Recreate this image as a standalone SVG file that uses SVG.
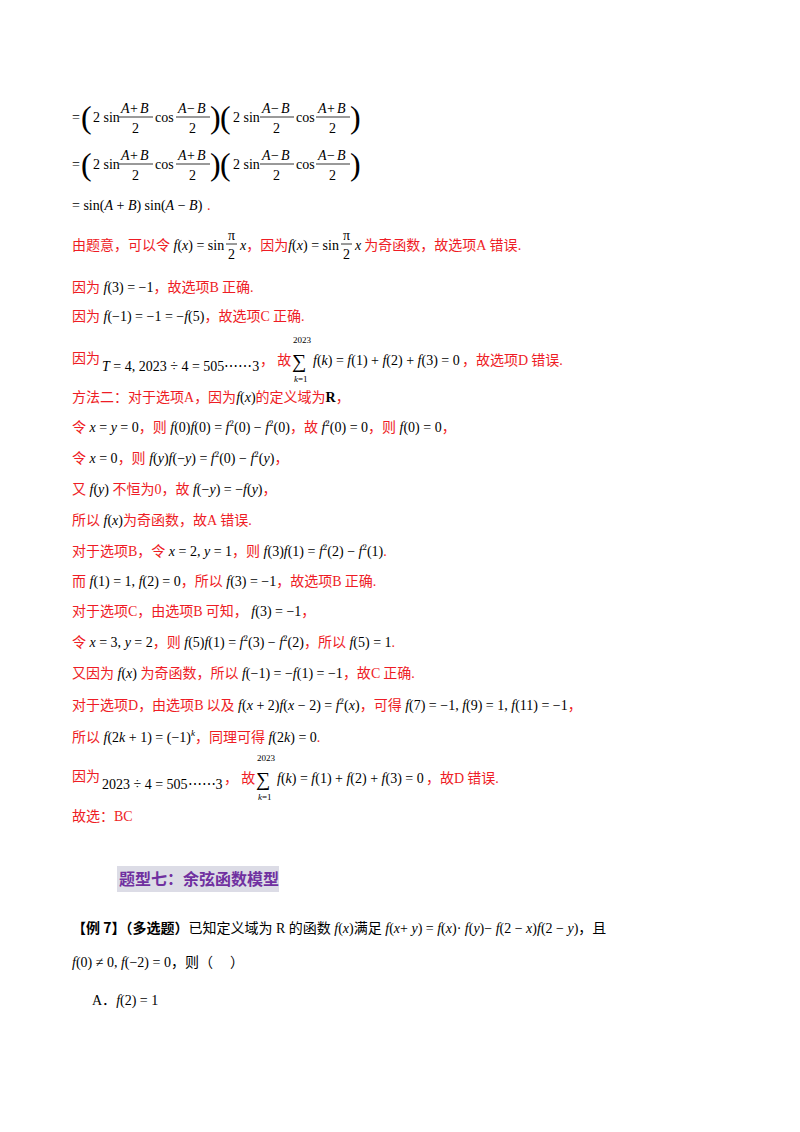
<svg xmlns="http://www.w3.org/2000/svg" width="800" height="1132" viewBox="0 0 800 1132">
<style>
text{font-family:"Liberation Serif","Noto Sans CJK SC",serif;font-size:14px;fill:#000}
.r{fill:#ee1c25}
.r .c{font-family:"Noto Sans CJK SC","Liberation Sans",sans-serif}
.m{fill:#000;font-family:"Liberation Serif",serif}
.i{font-style:italic}
.s{font-size:9px}
.p{font-size:32px;font-weight:100}
.k{font-family:"Noto Sans CJK SC",sans-serif}
line{stroke:#000;stroke-width:0.8}
</style>
<rect width="800" height="1132" fill="#fff"/>
<g id="eq">
<text x="72" y="122">=</text>
<text x="81" y="128" class="p">(</text>
<text x="93" y="122">2 sin</text>
<text x="121" y="113" class="i">A</text><text x="130" y="113">+</text><text x="140" y="113" class="i">B</text>
<line x1="119" y1="117" x2="153" y2="117"/><text x="132" y="133">2</text>
<text x="155" y="122">cos</text>
<text x="178" y="113" class="i">A</text><text x="187" y="113">−</text><text x="197" y="113" class="i">B</text>
<line x1="176" y1="117" x2="210" y2="117"/><text x="189" y="133">2</text>
<text x="210" y="128" class="p">)</text>
<text x="220" y="128" class="p">(</text>
<text x="233" y="122">2 sin</text>
<text x="262" y="113" class="i">A</text><text x="271" y="113">−</text><text x="281" y="113" class="i">B</text>
<line x1="260" y1="117" x2="294" y2="117"/><text x="273" y="133">2</text>
<text x="296" y="122">cos</text>
<text x="318" y="113" class="i">A</text><text x="327" y="113">+</text><text x="337" y="113" class="i">B</text>
<line x1="316" y1="117" x2="350" y2="117"/><text x="329" y="133">2</text>
<text x="350" y="128" class="p">)</text>

<text x="72" y="169">=</text>
<text x="81" y="175" class="p">(</text>
<text x="93" y="169">2 sin</text>
<text x="121" y="160" class="i">A</text><text x="130" y="160">+</text><text x="140" y="160" class="i">B</text>
<line x1="119" y1="164" x2="153" y2="164"/><text x="132" y="180">2</text>
<text x="155" y="169">cos</text>
<text x="178" y="160" class="i">A</text><text x="187" y="160">+</text><text x="197" y="160" class="i">B</text>
<line x1="176" y1="164" x2="210" y2="164"/><text x="189" y="180">2</text>
<text x="210" y="175" class="p">)</text>
<text x="220" y="175" class="p">(</text>
<text x="233" y="169">2 sin</text>
<text x="262" y="160" class="i">A</text><text x="271" y="160">−</text><text x="281" y="160" class="i">B</text>
<line x1="260" y1="164" x2="294" y2="164"/><text x="273" y="180">2</text>
<text x="296" y="169">cos</text>
<text x="318" y="160" class="i">A</text><text x="327" y="160">−</text><text x="337" y="160" class="i">B</text>
<line x1="316" y1="164" x2="350" y2="164"/><text x="329" y="180">2</text>
<text x="350" y="175" class="p">)</text>

<text x="72" y="210">= sin(<tspan class="i">A</tspan> + <tspan class="i">B</tspan>) sin(<tspan class="i">A</tspan> − <tspan class="i">B</tspan>)</text>
<text x="207" y="210" class="r">.</text>
</g>
<g id="body" font-size="14">
<text x="72" y="250" class="r"><tspan class="c">由题意，可以令</tspan><tspan class="m"> <tspan class="i">f</tspan>(<tspan class="i">x</tspan>) = sin</tspan></text>
<text x="228" y="240" class="m">π</text><line x1="226" y1="244" x2="237" y2="244"/><text x="228" y="259" class="m">2</text>
<text x="240" y="250" class="r"><tspan class="m i">x</tspan><tspan class="c">，因为</tspan><tspan class="m"><tspan class="i">f</tspan>(<tspan class="i">x</tspan>) = sin</tspan></text>
<text x="343" y="240" class="m">π</text><line x1="341" y1="244" x2="352" y2="244"/><text x="343" y="259" class="m">2</text>
<text x="355" y="250" class="r"><tspan class="m i">x</tspan><tspan class="c"> 为奇函数，故选项</tspan>A<tspan class="c"> 错误</tspan>.</text>

<text x="72" y="292" class="r"><tspan class="c">因为</tspan><tspan class="m"> <tspan class="i">f</tspan>(3) = −1</tspan><tspan class="c">，故选项</tspan>B<tspan class="c"> 正确</tspan>.</text>
<text x="72" y="321" class="r"><tspan class="c">因为</tspan><tspan class="m"> <tspan class="i">f</tspan>(−1) = −1 = −<tspan class="i">f</tspan>(5)</tspan><tspan class="c">，故选项</tspan>C<tspan class="c"> 正确</tspan>.</text>

<text x="72" y="363" class="r"><tspan class="c">因为</tspan></text>
<text x="102" y="371" class="m"><tspan class="i">T</tspan> = 4, 2023 ÷ 4 = 505⋯⋯3</text>
<text x="260" y="365" class="r"><tspan class="c">， 故</tspan></text>
<text x="293" y="343" class="m s">2023</text>
<text x="292" y="368" class="m" style="font-size:20px">∑</text>
<text x="294" y="382" class="m s"><tspan class="i">k</tspan>=1</text>
<text x="313" y="365" class="m"><tspan class="i">f</tspan>(<tspan class="i">k</tspan>) = <tspan class="i">f</tspan>(1) + <tspan class="i">f</tspan>(2) + <tspan class="i">f</tspan>(3) = 0</text>
<text x="462" y="365" class="r"><tspan class="c">，故选项</tspan>D<tspan class="c"> 错误</tspan>.</text>

<text x="72" y="402" class="r"><tspan class="c">方法二：对于选项</tspan>A<tspan class="c">，因为</tspan><tspan class="m"><tspan class="i">f</tspan>(<tspan class="i">x</tspan>)</tspan><tspan class="c">的定义域为</tspan><tspan font-weight="bold" fill="#000">R</tspan><tspan class="c">，</tspan></text>
<text x="72" y="432" class="r"><tspan class="c">令</tspan><tspan class="m"> <tspan class="i">x</tspan> = <tspan class="i">y</tspan> = 0</tspan><tspan class="c">，则</tspan><tspan class="m"> <tspan class="i">f</tspan>(0)<tspan class="i">f</tspan>(0) = <tspan class="i">f</tspan><tspan class="s" dy="-6">2</tspan><tspan dy="6">(0) − </tspan><tspan class="i">f</tspan><tspan class="s" dy="-6">2</tspan><tspan dy="6">(0)</tspan></tspan><tspan class="c">，故</tspan><tspan class="m"> <tspan class="i">f</tspan><tspan class="s" dy="-6">2</tspan><tspan dy="6">(0) = 0</tspan></tspan><tspan class="c">，则</tspan><tspan class="m"> <tspan class="i">f</tspan>(0) = 0</tspan><tspan class="c">，</tspan></text>
<text x="72" y="463" class="r"><tspan class="c">令</tspan><tspan class="m"> <tspan class="i">x</tspan> = 0</tspan><tspan class="c">，则</tspan><tspan class="m"> <tspan class="i">f</tspan>(<tspan class="i">y</tspan>)<tspan class="i">f</tspan>(−<tspan class="i">y</tspan>) = <tspan class="i">f</tspan><tspan class="s" dy="-6">2</tspan><tspan dy="6">(0) − </tspan><tspan class="i">f</tspan><tspan class="s" dy="-6">2</tspan><tspan dy="6">(</tspan><tspan class="i">y</tspan>)</tspan><tspan class="c">，</tspan></text>
<text x="72" y="494" class="r"><tspan class="c">又</tspan><tspan class="m"> <tspan class="i">f</tspan>(<tspan class="i">y</tspan>) </tspan><tspan class="c">不恒为</tspan>0<tspan class="c">，故</tspan><tspan class="m"> <tspan class="i">f</tspan>(−<tspan class="i">y</tspan>) = −<tspan class="i">f</tspan>(<tspan class="i">y</tspan>)</tspan><tspan class="c">，</tspan></text>
<text x="72" y="525" class="r"><tspan class="c">所以</tspan><tspan class="m"> <tspan class="i">f</tspan>(<tspan class="i">x</tspan>)</tspan><tspan class="c">为奇函数，故</tspan>A<tspan class="c"> 错误</tspan>.</text>
<text x="72" y="556" class="r"><tspan class="c">对于选项</tspan>B<tspan class="c">，令</tspan><tspan class="m"> <tspan class="i">x</tspan> = 2, <tspan class="i">y</tspan> = 1</tspan><tspan class="c">，则</tspan><tspan class="m"> <tspan class="i">f</tspan>(3)<tspan class="i">f</tspan>(1) = <tspan class="i">f</tspan><tspan class="s" dy="-6">2</tspan><tspan dy="6">(2) − </tspan><tspan class="i">f</tspan><tspan class="s" dy="-6">2</tspan><tspan dy="6">(1)</tspan></tspan>.</text>
<text x="72" y="586" class="r"><tspan class="c">而</tspan><tspan class="m"> <tspan class="i">f</tspan>(1) = 1, <tspan class="i">f</tspan>(2) = 0</tspan><tspan class="c">，所以</tspan><tspan class="m"> <tspan class="i">f</tspan>(3) = −1</tspan><tspan class="c">，故选项</tspan>B<tspan class="c"> 正确</tspan>.</text>
<text x="72" y="616" class="r"><tspan class="c">对于选项</tspan>C<tspan class="c">，由选项</tspan>B<tspan class="c"> 可知，</tspan><tspan class="m"> <tspan class="i">f</tspan>(3) = −1</tspan><tspan class="c">，</tspan></text>
<text x="72" y="647" class="r"><tspan class="c">令</tspan><tspan class="m"> <tspan class="i">x</tspan> = 3, <tspan class="i">y</tspan> = 2</tspan><tspan class="c">，则</tspan><tspan class="m"> <tspan class="i">f</tspan>(5)<tspan class="i">f</tspan>(1) = <tspan class="i">f</tspan><tspan class="s" dy="-6">2</tspan><tspan dy="6">(3) − </tspan><tspan class="i">f</tspan><tspan class="s" dy="-6">2</tspan><tspan dy="6">(2)</tspan></tspan><tspan class="c">，所以</tspan><tspan class="m"> <tspan class="i">f</tspan>(5) = 1</tspan>.</text>
<text x="72" y="678" class="r"><tspan class="c">又因为</tspan><tspan class="m"> <tspan class="i">f</tspan>(<tspan class="i">x</tspan>) </tspan><tspan class="c">为奇函数，所以</tspan><tspan class="m"> <tspan class="i">f</tspan>(−1) = −<tspan class="i">f</tspan>(1) = −1</tspan><tspan class="c">，故</tspan>C<tspan class="c"> 正确</tspan>.</text>
<text x="72" y="710" class="r"><tspan class="c">对于选项</tspan>D<tspan class="c">，由选项</tspan>B<tspan class="c"> 以及</tspan><tspan class="m"> <tspan class="i">f</tspan>(<tspan class="i">x</tspan> + 2)<tspan class="i">f</tspan>(<tspan class="i">x</tspan> − 2) = <tspan class="i">f</tspan><tspan class="s" dy="-6">2</tspan><tspan dy="6">(</tspan><tspan class="i">x</tspan>)</tspan><tspan class="c">，可得</tspan><tspan class="m"> <tspan class="i">f</tspan>(7) = −1, <tspan class="i">f</tspan>(9) = 1, <tspan class="i">f</tspan>(11) = −1</tspan><tspan class="c">，</tspan></text>
<text x="72" y="742" class="r"><tspan class="c">所以</tspan><tspan class="m"> <tspan class="i">f</tspan>(2<tspan class="i">k</tspan> + 1) = (−1)<tspan class="s i" dy="-6">k</tspan></tspan><tspan class="c" dy="6">，同理可得</tspan><tspan class="m"> <tspan class="i">f</tspan>(2<tspan class="i">k</tspan>) = 0</tspan>.</text>

<text x="72" y="781" class="r"><tspan class="c">因为</tspan></text>
<text x="102" y="789" class="m">2023 ÷ 4 = 505⋯⋯3</text>
<text x="224" y="783" class="r"><tspan class="c">， 故</tspan></text>
<text x="257" y="761" class="m s">2023</text>
<text x="256" y="786" class="m" style="font-size:20px">∑</text>
<text x="258" y="800" class="m s"><tspan class="i">k</tspan>=1</text>
<text x="277" y="783" class="m"><tspan class="i">f</tspan>(<tspan class="i">k</tspan>) = <tspan class="i">f</tspan>(1) + <tspan class="i">f</tspan>(2) + <tspan class="i">f</tspan>(3) = 0</text>
<text x="426" y="783" class="r"><tspan class="c">，故</tspan>D<tspan class="c"> 错误</tspan>.</text>
<text x="72" y="821" class="r"><tspan class="c">故选：</tspan>BC</text>
</g>
<g id="heading">
<rect x="117" y="866" width="162" height="26" fill="#dcdce6"/>
<text x="119" y="885" style="font-family:'Noto Sans CJK SC',sans-serif;font-size:16px;font-weight:bold;fill:#7030a0">题型七：余弦函数模型</text>
</g>
<g id="example">
<text x="72" y="933"><tspan class="k" font-weight="bold">【例 7】（多选题）</tspan><tspan class="k">已知定义域为</tspan><tspan font-family="Liberation Serif"> R </tspan><tspan class="k">的函数</tspan><tspan> <tspan class="i">f</tspan>(<tspan class="i">x</tspan>)</tspan><tspan class="k">满足</tspan><tspan> <tspan class="i">f</tspan>(<tspan class="i">x</tspan>+ <tspan class="i">y</tspan>) = <tspan class="i">f</tspan>(<tspan class="i">x</tspan>)· <tspan class="i">f</tspan>(<tspan class="i">y</tspan>)− <tspan class="i">f</tspan>(2 − <tspan class="i">x</tspan>)<tspan class="i">f</tspan>(2 − <tspan class="i">y</tspan>)</tspan><tspan class="k">，且</tspan></text>
<text x="72" y="967"><tspan class="i">f</tspan>(0) ≠ 0, <tspan class="i">f</tspan>(−2) = 0<tspan class="k">，则（　 ）</tspan></text>
<text x="92" y="1005">A．<tspan class="i">f</tspan>(2) = 1</text>
</g>
</svg>
